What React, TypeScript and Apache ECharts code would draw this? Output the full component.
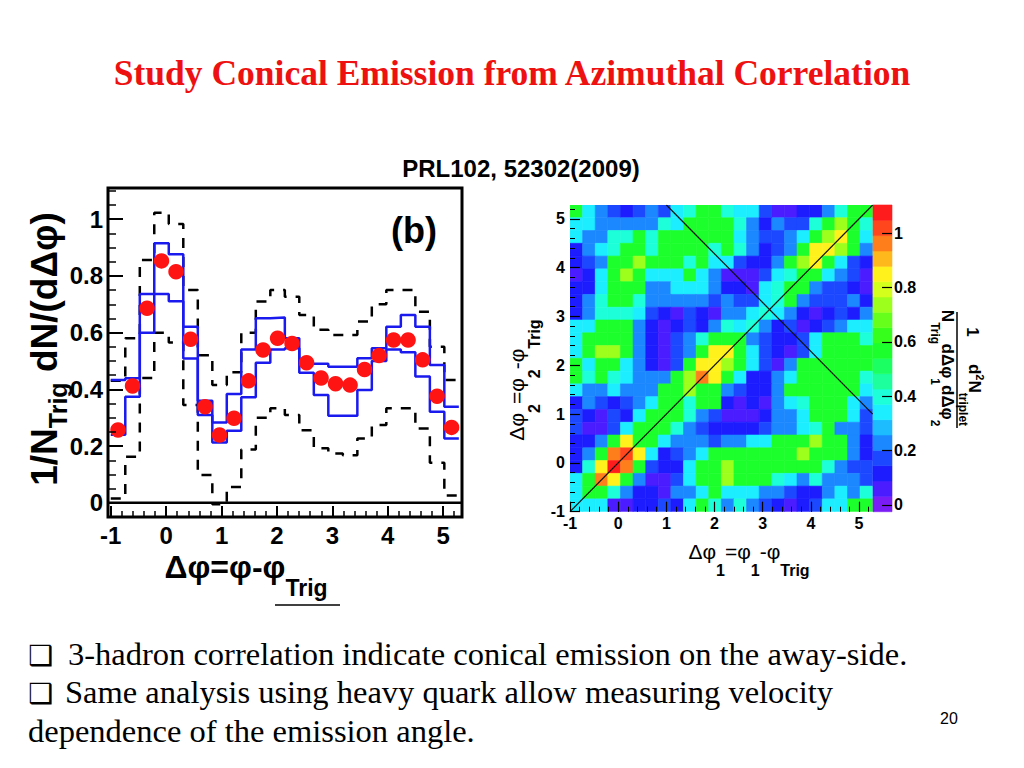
import React, { useEffect, useRef } from "react";
import * as echarts from "echarts";

// ---------- texts ----------
const titleText = "Study Conical Emission from Azimuthal Correlation";
const referenceText = "PRL102, 52302(2009)";
const bulletLine1 = "3-hadron correlation indicate conical emission on the away-side.";
const bulletLine2 = "Same analysis using heavy quark allow measuring velocity";
const bulletLine3 = "dependence of the emission angle.";
const pageNumber = "20";

// ---------- binning (24 bins over 2*pi, starting at -1) ----------
const phiEdges = [
  -1.0, -0.738, -0.476, -0.215, 0.047, 0.309, 0.571, 0.833, 1.094, 1.356, 1.618, 1.88,
  2.142, 2.403, 2.665, 2.927, 3.189, 3.451, 3.712, 3.974, 4.236, 4.498, 4.76, 5.021, 5.283,
];
const phiCenters = [
  -0.869, -0.607, -0.345, -0.084, 0.178, 0.44, 0.702, 0.963, 1.225, 1.487, 1.749, 2.011,
  2.272, 2.534, 2.796, 3.058, 3.32, 3.581, 3.843, 4.105, 4.367, 4.629, 4.89, 5.152,
];

// ---------- left panel (b) ----------
const signal = [
  0.257, 0.412, 0.686, 0.853, 0.815, 0.577, 0.339, 0.239, 0.298, 0.43, 0.539, 0.58,
  0.562, 0.494, 0.44, 0.42, 0.415, 0.47, 0.519, 0.574, 0.574, 0.504, 0.376, 0.266,
];
const statUpper = [
  0.433, 0.439, 0.736, 0.915, 0.876, 0.621, 0.36, 0.283, 0.384, 0.541, 0.651, 0.653,
  0.58, 0.49, 0.49, 0.48, 0.48, 0.51, 0.545, 0.621, 0.662, 0.621, 0.486, 0.339,
];
const statLower = [
  0.24, 0.374, 0.6, 0.736, 0.711, 0.509, 0.31, 0.213, 0.254, 0.372, 0.494, 0.541,
  0.545, 0.459, 0.38, 0.307, 0.307, 0.398, 0.5, 0.541, 0.531, 0.445, 0.321, 0.227,
];
const systUpper = [
  0.43, 0.58, 0.856, 1.023, 0.983, 0.75, 0.52, 0.415, 0.46, 0.6, 0.71, 0.75,
  0.727, 0.662, 0.61, 0.592, 0.592, 0.639, 0.7, 0.75, 0.75, 0.674, 0.55, 0.433,
];
const systLower = [
  0.015, 0.162, 0.44, 0.6, 0.565, 0.345, 0.098, -0.005, 0.056, 0.188, 0.3, 0.333,
  0.31, 0.256, 0.192, 0.174, 0.168, 0.227, 0.274, 0.333, 0.333, 0.262, 0.141, 0.026,
];
const leftYTicks = [0, 0.2, 0.4, 0.6, 0.8, 1];
const leftXTicks = [-1, 0, 1, 2, 3, 4, 5];

// ---------- right panel: 24 x 24 cells, rows listed from top (dphi2 high) to bottom ----------
const cellValues = [
  [.57,.34,.24,.19,.12,.19,.24,.19,.34,.40,.57,.57,.40,.34,.34,.19,.05,.05,.12,.12,.24,.40,.57,.57],
  [.34,.34,.24,.24,.24,.24,.24,.40,.34,.57,.57,.57,.57,.40,.24,.12,.24,.19,.19,.40,.57,.73,.57,.40],
  [.34,.24,.24,.40,.40,.57,.40,.57,.57,.57,.57,.57,.57,.34,.24,.19,.19,.24,.34,.57,.73,.84,.57,.34],
  [.12,.24,.34,.40,.57,.57,.40,.57,.57,.57,.57,.40,.57,.40,.24,.12,.19,.24,.57,.84,.84,.73,.57,.24],
  [.12,.19,.24,.57,.57,.73,.57,.57,.57,.40,.57,.34,.34,.19,.12,.12,.24,.57,.73,.84,.57,.34,.19,.12],
  [.05,.12,.34,.57,.73,.57,.34,.34,.34,.57,.34,.24,.05,.05,.05,.19,.34,.40,.57,.57,.34,.24,.19,.05],
  [.12,.12,.34,.57,.57,.57,.24,.24,.34,.34,.34,.24,.12,.12,.05,.34,.40,.57,.57,.24,.19,.19,.12,.05],
  [.12,.24,.40,.57,.57,.40,.24,.24,.24,.24,.24,.19,.24,.19,.19,.34,.40,.57,.24,.19,.19,.19,.24,.12],
  [.12,.24,.40,.40,.40,.34,.19,.12,.05,.19,.12,.05,.24,.24,.34,.40,.34,.24,.12,.05,.12,.19,.12,.24],
  [.34,.34,.57,.57,.57,.24,.12,.05,.12,.19,.12,.24,.40,.34,.40,.24,.12,.19,.05,.12,.19,.24,.34,.34],
  [.34,.57,.57,.57,.57,.24,.12,.05,.19,.24,.40,.57,.57,.57,.24,.19,.12,.12,.19,.34,.57,.57,.57,.40],
  [.34,.57,.73,.73,.57,.24,.12,.05,.19,.24,.57,.84,.84,.57,.34,.19,.12,.05,.19,.34,.57,.57,.57,.57],
  [.57,.34,.57,.57,.34,.24,.12,.05,.19,.57,.84,.84,.73,.57,.34,.19,.05,.24,.57,.57,.57,.57,.57,.57],
  [.57,.40,.57,.40,.34,.24,.24,.24,.57,.73,.95,.84,.57,.34,.12,.12,.24,.34,.57,.57,.57,.57,.57,.40],
  [.34,.24,.24,.34,.24,.24,.24,.57,.57,.73,.57,.57,.24,.19,.12,.12,.24,.57,.57,.57,.57,.57,.57,.34],
  [.12,.24,.19,.12,.19,.24,.34,.57,.57,.40,.57,.57,.12,.05,.12,.05,.24,.34,.40,.57,.57,.57,.34,.24],
  [.19,.12,.05,.19,.12,.34,.57,.57,.57,.40,.24,.19,.05,.05,.05,.12,.24,.24,.34,.57,.57,.57,.34,.19],
  [.19,.05,.05,.19,.34,.57,.57,.57,.40,.24,.19,.12,.12,.12,.12,.19,.24,.24,.34,.40,.57,.24,.24,.19],
  [.12,.12,.24,.57,.84,.57,.57,.34,.24,.24,.24,.19,.24,.24,.34,.34,.57,.57,.57,.73,.57,.57,.24,.12],
  [.12,.24,.57,.95,1.02,.84,.34,.12,.19,.24,.34,.57,.57,.57,.57,.57,.57,.57,.73,.57,.57,.57,.24,.12],
  [.12,.40,.84,1.07,.95,.57,.19,.12,.12,.34,.57,.57,.73,.57,.57,.57,.57,.57,.57,.57,.40,.24,.19,.19],
  [.34,.57,.95,.84,.57,.24,.05,.05,.19,.34,.57,.57,.73,.57,.57,.57,.40,.34,.24,.40,.24,.24,.24,.19],
  [.34,.57,.57,.40,.24,.12,.12,.05,.24,.24,.34,.57,.34,.34,.34,.24,.24,.19,.12,.12,.24,.34,.24,.40],
  [.34,.34,.34,.05,.05,.12,.12,.19,.12,.34,.57,.40,.24,.40,.24,.19,.12,.05,.12,.19,.34,.34,.57,.57],
];
const heatTicks = [-1, 0, 1, 2, 3, 4, 5];
const colorbarTicks = [0, 0.2, 0.4, 0.6, 0.8, 1];
const paletteEdges = [
  -0.025, 0.0315, 0.0879, 0.1444, 0.2008, 0.2573, 0.3137, 0.3702, 0.4266, 0.4831, 0.5395,
  0.596, 0.6524, 0.7089, 0.7653, 0.8218, 0.8782, 0.9347, 0.9911, 1.0476, 1.104,
];
const paletteColors = [
  "#7a1cf5", "#4a1cff", "#1c1cff", "#1c48ff", "#1c88ff", "#1cbcff", "#1ceeff", "#1cffd8",
  "#1cff9c", "#1cff62", "#1cff2c", "#36ff1c", "#66ff1c", "#9cff1c", "#d4ff1c", "#fff21c",
  "#ffb81c", "#ff7e1c", "#ff461c", "#ff1c1c",
];

const SANS = "'Liberation Sans', Arial, sans-serif";
const SERIF = "'Liberation Serif', 'Times New Roman', serif";

function stepPoints(values: number[]) {
  const pts: number[][] = [];
  values.forEach((v, i) => {
    pts.push([phiEdges[i], v]);
    pts.push([phiEdges[i + 1], v]);
  });
  return pts;
}

function tickList(from: number, to: number, step: number) {
  const out: number[] = [];
  for (let k = 0; from + k * step <= to + 1e-9; k++) out.push(Math.round((from + k * step) * 1000) / 1000);
  return out;
}

function buildOption() {
  const nRows = cellValues.length;
  const heatData: number[][] = [];
  cellValues.forEach((row, r) => {
    const j = nRows - 1 - r;
    row.forEach((v, i) => {
      heatData.push([phiEdges[i], phiEdges[i + 1], phiEdges[j], phiEdges[j + 1], v]);
    });
  });
  const colorbarData = paletteColors.map((_, k) => [
    0, 1, paletteEdges[k], paletteEdges[k + 1], (paletteEdges[k] + paletteEdges[k + 1]) / 2,
  ]);

  const rectItem = (params: any, api: any) => {
    const p0 = api.coord([api.value(0), api.value(3)]);
    const p1 = api.coord([api.value(1), api.value(2)]);
    const color = api.visual("color");
    return {
      type: "rect",
      shape: { x: p0[0], y: p0[1], width: p1[0] - p0[0], height: p1[1] - p0[1] },
      style: { fill: color, stroke: color, lineWidth: 0.6 },
    };
  };

  const labelBig = { fontSize: 24, fontWeight: "bold", fontFamily: SANS, color: "#000" };
  const labelSmall = { fontSize: 16, fontWeight: "bold", fontFamily: SANS, color: "#000" };
  const noLine = { show: false, onZero: false };

  const leftXMin = -1.05, leftXMax = 5.34, leftYMin = -0.05, leftYMax = 1.11;
  const heatMin = -1, heatMax = 5.283;

  const txt = (x: number, y: number, text: string, font: any, extra: any = {}) => ({
    type: "text",
    x,
    y,
    ...extra,
    style: {
      text,
      fill: "#000",
      align: "center",
      textAlign: "center",
      verticalAlign: "middle",
      textVerticalAlign: "middle",
      ...font,
    },
  });

  const richTok = (size: number, weight: string, pad?: number[]) => ({
    fontSize: size,
    fontWeight: weight,
    fontFamily: SANS,
    fill: "#000",
    color: "#000",
    ...(pad ? { padding: pad } : {}),
  });

  return {
    animation: false,
    backgroundColor: "#ffffff",
    grid: [
      { left: 108, top: 188, width: 354, height: 329, show: true, borderColor: "#000", borderWidth: 3, backgroundColor: "transparent" },
      { left: 570, top: 205, width: 302.7, height: 306.7 },
      { left: 873, top: 205, width: 19, height: 306.7 },
    ],
    xAxis: [
      {
        gridIndex: 0, type: "value", min: leftXMin, max: leftXMax, position: "bottom", z: 10,
        axisLine: noLine, splitLine: { show: false },
        axisTick: { inside: true, length: 11, customValues: leftXTicks, lineStyle: { color: "#000", width: 2 } },
        axisLabel: { customValues: leftXTicks, margin: 6, ...labelBig },
      },
      {
        gridIndex: 0, type: "value", min: leftXMin, max: leftXMax, position: "bottom", z: 10,
        axisLine: noLine, splitLine: { show: false }, axisLabel: { show: false },
        axisTick: { inside: true, length: 6, customValues: tickList(-1, 5.2, 0.2), lineStyle: { color: "#000", width: 1.5 } },
      },
      {
        gridIndex: 1, type: "value", min: heatMin, max: heatMax, position: "bottom", z: 10,
        axisLine: noLine, splitLine: { show: false },
        axisTick: { inside: true, length: 10, customValues: heatTicks, lineStyle: { color: "#000", width: 1.2 } },
        axisLabel: { customValues: heatTicks, margin: 4, ...labelSmall },
      },
      {
        gridIndex: 1, type: "value", min: heatMin, max: heatMax, position: "bottom", z: 10,
        axisLine: noLine, splitLine: { show: false }, axisLabel: { show: false },
        axisTick: { inside: true, length: 5, customValues: tickList(-1, 5.2, 0.2), lineStyle: { color: "#000", width: 1 } },
      },
      { gridIndex: 2, type: "value", min: 0, max: 1, show: false, axisLine: noLine },
    ],
    yAxis: [
      {
        gridIndex: 0, type: "value", min: leftYMin, max: leftYMax, position: "left", z: 10,
        axisLine: noLine, splitLine: { show: false },
        axisTick: { inside: true, length: 15, customValues: leftYTicks, lineStyle: { color: "#000", width: 2 } },
        axisLabel: { customValues: leftYTicks, margin: 5, formatter: (v: number) => String(v), ...labelBig },
      },
      {
        gridIndex: 0, type: "value", min: leftYMin, max: leftYMax, position: "left", z: 10,
        axisLine: noLine, splitLine: { show: false }, axisLabel: { show: false },
        axisTick: { inside: true, length: 8, customValues: tickList(0, 1.1, 0.05), lineStyle: { color: "#000", width: 1.5 } },
      },
      {
        gridIndex: 1, type: "value", min: heatMin, max: heatMax, position: "left", z: 10,
        axisLine: noLine, splitLine: { show: false },
        axisTick: { inside: true, length: 10, customValues: heatTicks, lineStyle: { color: "#000", width: 1.2 } },
        axisLabel: { customValues: heatTicks, margin: 5, ...labelSmall },
      },
      {
        gridIndex: 1, type: "value", min: heatMin, max: heatMax, position: "left", z: 10,
        axisLine: noLine, splitLine: { show: false }, axisLabel: { show: false },
        axisTick: { inside: true, length: 5, customValues: tickList(-1, 5.2, 0.2), lineStyle: { color: "#000", width: 1 } },
      },
      {
        gridIndex: 2, type: "value", min: -0.025, max: 1.104, position: "right", z: 10,
        axisLine: noLine, splitLine: { show: false },
        axisTick: { inside: true, length: 10, customValues: colorbarTicks, lineStyle: { color: "#000", width: 1.2 } },
        axisLabel: { customValues: colorbarTicks, margin: 2, formatter: (v: number) => String(v), ...labelSmall },
      },
    ],
    visualMap: {
      type: "piecewise",
      show: false,
      dimension: 4,
      seriesIndex: [6, 9],
      pieces: paletteColors.map((c, k) => ({ min: paletteEdges[k], max: paletteEdges[k + 1], color: c })),
    },
    series: [
      {
        type: "line", xAxisIndex: 0, yAxisIndex: 0, data: stepPoints(systUpper), symbol: "none", silent: true, z: 2,
        lineStyle: { color: "#000", width: 2.5, type: [10, 9] },
      },
      {
        type: "line", xAxisIndex: 0, yAxisIndex: 0, data: stepPoints(systLower), symbol: "none", silent: true, z: 2,
        lineStyle: { color: "#000", width: 2.5, type: [10, 9] },
      },
      {
        type: "line", xAxisIndex: 0, yAxisIndex: 0, data: stepPoints(statUpper), symbol: "none", silent: true, z: 3,
        lineStyle: { color: "#1a1aee", width: 2.5 },
      },
      {
        type: "line", xAxisIndex: 0, yAxisIndex: 0, data: stepPoints(statLower), symbol: "none", silent: true, z: 3,
        lineStyle: { color: "#1a1aee", width: 2.5 },
      },
      {
        type: "line", xAxisIndex: 0, yAxisIndex: 0, data: [[leftXMin, 0], [leftXMax, 0]], symbol: "none", silent: true, z: 3,
        lineStyle: { color: "#000", width: 2.5 },
      },
      {
        type: "scatter", xAxisIndex: 0, yAxisIndex: 0, z: 4,
        data: phiCenters.map((x, i) => [x, signal[i]]),
        symbol: "circle", symbolSize: 15.5, itemStyle: { color: "#ff1414", opacity: 1 },
      },
      {
        type: "custom", xAxisIndex: 2, yAxisIndex: 2, z: 1, clip: true,
        encode: { x: [0, 1], y: [2, 3] },
        data: heatData, renderItem: rectItem,
      },
      {
        type: "line", xAxisIndex: 2, yAxisIndex: 2, z: 5, symbol: "none", silent: true,
        data: [[heatMin, heatMin], [heatMax, heatMax]], lineStyle: { color: "#111", width: 1.2 },
      },
      {
        type: "line", xAxisIndex: 2, yAxisIndex: 2, z: 5, symbol: "none", silent: true,
        data: [[1.0, heatMax], [heatMax, 1.0]], lineStyle: { color: "#111", width: 1.2 },
      },
      {
        type: "custom", xAxisIndex: 4, yAxisIndex: 4, z: 1,
        encode: { x: [0, 1], y: [2, 3] },
        data: colorbarData, renderItem: rectItem,
      },
    ],
    graphic: [
      txt(512, 73, titleText, { fontSize: 35.5, fontWeight: "bold", fontFamily: SERIF, fill: "#ee1111" }),
      txt(521, 168, referenceText, { fontSize: 24, fontWeight: "bold", fontFamily: SANS }),
      // bullets
      txt(28, 655, "\u2751", { fontSize: 28, fontWeight: "bold", fontFamily: "'DejaVu Sans'", align: "left", textAlign: "left" }),
      txt(68, 654, bulletLine1, { fontSize: 32.5, fontFamily: SERIF, align: "left", textAlign: "left" }),
      txt(28, 693, "\u2751", { fontSize: 28, fontWeight: "bold", fontFamily: "'DejaVu Sans'", align: "left", textAlign: "left" }),
      txt(65, 692, bulletLine2, { fontSize: 32.5, fontFamily: SERIF, align: "left", textAlign: "left" }),
      txt(28, 731, bulletLine3, { fontSize: 32.5, fontFamily: SERIF, align: "left", textAlign: "left" }),
      txt(949, 718, pageNumber, { fontSize: 16, fontFamily: SANS }),
      // left panel labels
      txt(414, 230, "(b)", { fontSize: 36, fontWeight: "bold", fontFamily: SANS }),
      txt(44, 349, "{m|1/N}{s|Trig}{m| dN/(d\u0394\u03c6)}", {
        rich: { m: richTok(37, "bold"), s: richTok(25, "bold", [28, 0, 0, 0]) },
      }, { rotation: Math.PI / 2 }),
      txt(246, 567, "{m|\u0394\u03c6=\u03c6-\u03c6}{s|Trig}", {
        rich: { m: richTok(32, "bold"), s: richTok(23, "bold", [42, 0, 0, 0]) },
      }),
      { type: "line", shape: { x1: 275, y1: 605, x2: 340, y2: 605 }, style: { stroke: "#000", lineWidth: 1.5 } },
      // right panel labels
      txt(749, 551, "{m|\u0394\u03c6}{s|1}{m|=\u03c6}{s|1}{m|-\u03c6}{s|Trig}", {
        rich: { m: richTok(21, "normal"), s: richTok(16, "bold", [38, 0, 0, 0]) },
      }),
      txt(516, 380, "{m|\u0394\u03c6}{s|2}{m|=\u03c6}{s|2}{m|-\u03c6}{s|Trig}", {
        rich: { m: richTok(21, "normal"), s: richTok(16, "bold", [36, 0, 0, 0]) },
      }, { rotation: Math.PI / 2 }),
      {
        type: "group",
        x: 957,
        y: 370,
        rotation: -Math.PI / 2,
        children: [
          { type: "line", shape: { x1: -58, y1: 0, x2: 58, y2: 0 }, style: { stroke: "#000", lineWidth: 1.5 } },
          txt(-38, -15, "1", { fontSize: 17, fontWeight: "bold", fontFamily: SANS }),
          txt(25, -17, "{m|d}{p|2}{m|N}{s|triplet}", {
            rich: { m: richTok(17, "bold"), p: richTok(11, "bold", [0, 0, 12, 0]), s: richTok(12, "bold", [23, 0, 0, 0]) },
          }),
          txt(-43, 10, "{m|N}{s|Trig}", {
            rich: { m: richTok(17, "bold"), s: richTok(12, "bold", [25, 0, 0, 0]) },
          }),
          txt(15, 10, "{m|d\u0394\u03c6}{s|1}{m|d\u0394\u03c6}{s|2}", {
            rich: { m: richTok(17, "bold"), s: richTok(12, "bold", [25, 0, 0, 0]) },
          }),
        ],
      },
    ],
  };
}

export default function App() {
  const ref = useRef<HTMLDivElement>(null);
  useEffect(() => {
    if (!ref.current) return;
    const chart = echarts.init(ref.current, null, { renderer: "svg" });
    chart.setOption(buildOption() as any);
    return () => chart.dispose();
  }, []);
  return (
    <div
      ref={ref}
      style={{ position: "absolute", left: 0, top: 0, width: 1024, height: 768, background: "#fff" }}
    />
  );
}
